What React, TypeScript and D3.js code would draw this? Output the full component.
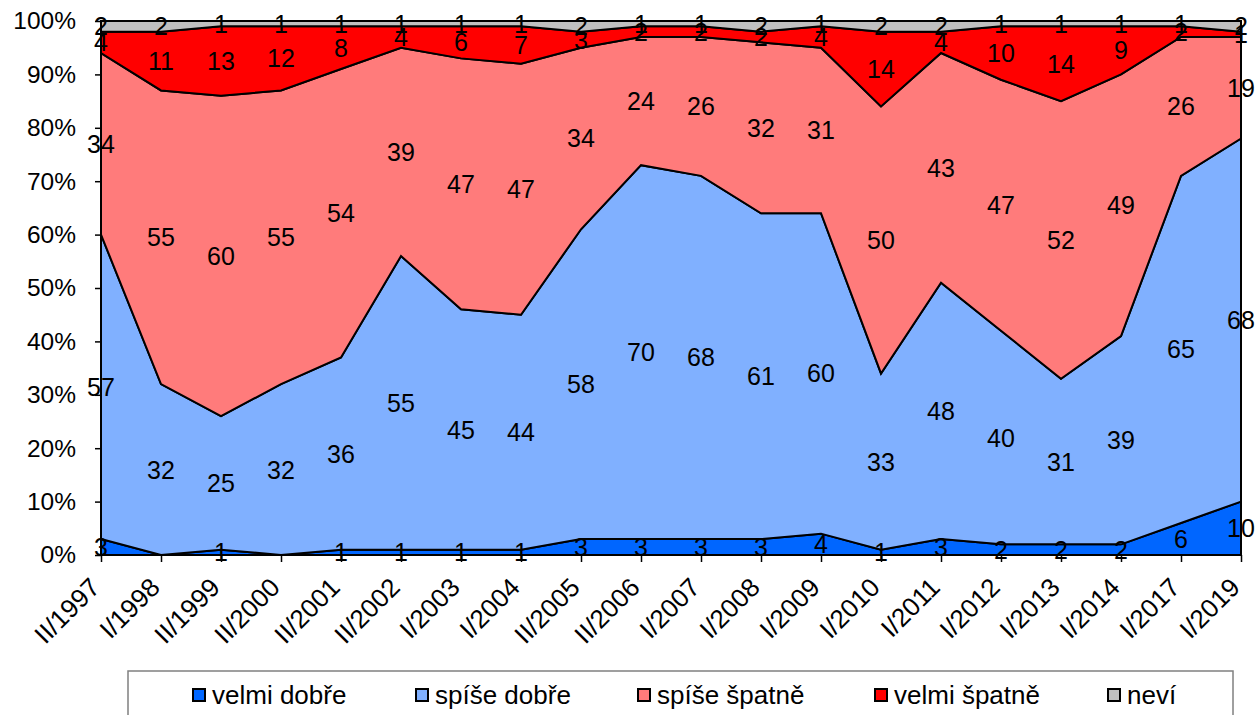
import { useEffect, useRef } from 'react'
import * as d3 from 'd3'

const CATEGORIES = [
  'II/1997', 'I/1998', 'II/1999', 'II/2000', 'II/2001', 'II/2002', 'I/2003', 'I/2004',
  'II/2005', 'II/2006', 'I/2007', 'I/2008', 'I/2009', 'I/2010', 'I/2011', 'I/2012',
  'I/2013', 'I/2014', 'I/2017', 'I/2019',
]
const VELMI_DOBRE = [3, 0, 1, 0, 1, 1, 1, 1, 3, 3, 3, 3, 4, 1, 3, 2, 2, 2, 6, 10]
const SPISE_DOBRE = [57, 32, 25, 32, 36, 55, 45, 44, 58, 70, 68, 61, 60, 33, 48, 40, 31, 39, 65, 68]
const SPISE_SPATNE = [34, 55, 60, 55, 54, 39, 47, 47, 34, 24, 26, 32, 31, 50, 43, 47, 52, 49, 26, 19]
const VELMI_SPATNE = [4, 11, 13, 12, 8, 4, 6, 7, 3, 2, 2, 2, 4, 14, 4, 10, 14, 9, 2, 1]
const NEVI = [2, 2, 1, 1, 1, 1, 1, 1, 2, 1, 1, 2, 1, 2, 2, 1, 1, 1, 1, 2]
const Y_TICKS = [0, 10, 20, 30, 40, 50, 60, 70, 80, 90, 100]

const SERIES = [
  { key: 'vd', name: 'velmi dobře', values: VELMI_DOBRE, color: '#0066ff' },
  { key: 'sd', name: 'spíše dobře', values: SPISE_DOBRE, color: '#80b0ff' },
  { key: 'ss', name: 'spíše špatně', values: SPISE_SPATNE, color: '#ff7b7b' },
  { key: 'vs', name: 'velmi špatně', values: VELMI_SPATNE, color: '#ff0000' },
  { key: 'nv', name: 'neví', values: NEVI, color: '#c0c0c0' },
]

const FONT = 'Liberation Sans, Arial, sans-serif'

export default function App() {
  const ref = useRef<SVGSVGElement>(null)

  useEffect(() => {
    const svg = d3.select(ref.current)
    svg.selectAll('*').remove()

    const left = 101, right = 1241, top = 21, bottom = 555

    const x = d3.scalePoint<string>().domain(CATEGORIES).range([left, right])
    const y = d3.scaleLinear().domain([0, 100]).range([bottom, top])

    const table = CATEGORIES.map((c, i) => {
      const row: Record<string, any> = { cat: c }
      SERIES.forEach(s => { row[s.key] = s.values[i] })
      return row
    })
    const stacked = d3.stack().keys(SERIES.map(s => s.key))(table as any)

    const area = d3.area<any>()
      .x(d => x(d.data.cat)!)
      .y0(d => y(d[0]))
      .y1(d => y(d[1]))

    svg.append('g')
      .selectAll('path')
      .data(stacked)
      .join('path')
      .attr('d', d => area(d as any))
      .attr('fill', (_, i) => SERIES[i].color)
      .attr('stroke', '#000')
      .attr('stroke-width', 2)

    // axes
    const yAxis = svg.append('g').attr('transform', `translate(${left},0)`)
      .call(d3.axisLeft(y).tickValues(Y_TICKS).tickSize(6).tickFormat(d => `${d}%`))
    yAxis.select('.domain').attr('stroke', '#000').attr('stroke-width', 2).attr('d', `M0,${top}V${bottom}`)
    yAxis.selectAll('.tick line').attr('stroke', '#000').attr('stroke-width', 1.5)
    yAxis.selectAll('.tick text').attr('x', -25).attr('font-size', 24.5).attr('font-family', FONT).attr('fill', '#000')

    const xAxis = svg.append('g').attr('transform', `translate(0,${bottom})`)
      .call(d3.axisBottom(x).tickSize(7))
    xAxis.select('.domain').attr('stroke', '#000').attr('stroke-width', 2).attr('d', `M${left},0H${right}`)
    xAxis.selectAll('.tick line').attr('stroke', '#000').attr('stroke-width', 1.5)
    xAxis.selectAll('.tick text')
      .attr('font-size', 26).attr('font-family', FONT).attr('fill', '#000')
      .attr('text-anchor', 'end')
      .attr('y', 0).attr('dy', 0)
      .attr('transform', 'translate(0,34) rotate(-45)')

    // data labels (zero shares are not labelled)
    const lg = svg.append('g').attr('font-family', FONT).attr('font-size', 25).attr('fill', '#000')
      .attr('text-anchor', 'middle')
    stacked.forEach(layer => {
      layer.forEach((d: any) => {
        const v = d[1] - d[0]
        if (v === 0) return
        lg.append('text')
          .attr('x', x(d.data.cat)!)
          .attr('y', y((d[0] + d[1]) / 2))
          .attr('dy', '0.36em')
          .text(v)
      })
    })

    // legend
    const leg = svg.append('g')
    leg.append('rect').attr('x', 128).attr('y', 671).attr('width', 1105).attr('height', 60)
      .attr('fill', '#fff').attr('stroke', '#808080').attr('stroke-width', 1.5)
    const legX = [193, 416, 638, 875, 1108]
    SERIES.forEach((s, i) => {
      const g = leg.append('g').attr('transform', `translate(${legX[i]},695)`)
      g.append('rect').attr('x', 0).attr('y', -6).attr('width', 12).attr('height', 12)
        .attr('fill', s.color).attr('stroke', '#000').attr('stroke-width', 2)
      g.append('text').attr('x', 19).attr('y', 0).attr('dy', '0.36em')
        .attr('font-family', FONT).attr('font-size', 26).attr('fill', '#000').text(s.name)
    })
  }, [])

  return (
    <>
      <style>{'body{margin:0}'}</style>
      <svg ref={ref} width={1258} height={715} style={{ display: 'block', background: '#fff' }} />
    </>
  )
}
